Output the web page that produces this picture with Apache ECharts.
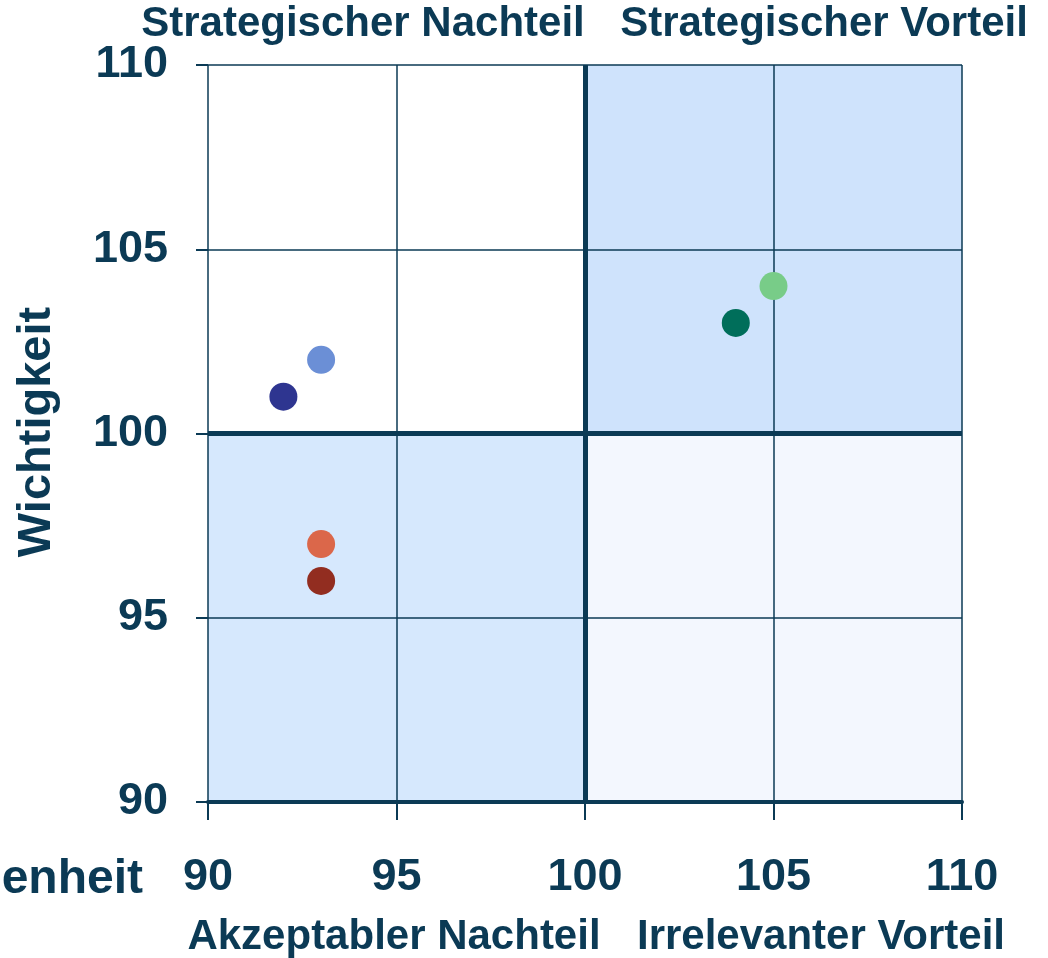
<!DOCTYPE html>
<html>
<head>
<meta charset="utf-8">
<script src="https://cdn.jsdelivr.net/npm/echarts@6/dist/echarts.min.js"></script>
<style>
  html, body { margin: 0; padding: 0; background: #fff; }
  #chart { width: 1048px; height: 958px; }
</style>
</head>
<body>
<div id="chart"></div>
<script>
// Datenpunkte: [Zufriedenheit, Wichtigkeit]
var pointNames = ['A', 'B', 'C', 'D', 'E', 'F']
var zufriedenheit = [92, 93, 93, 93, 104, 105]
var wichtigkeit = [101, 102, 97, 96, 103, 104]
var pointColors = ['#2e3590', '#6b8fd6', '#db674a', '#922d20', '#006e5a', '#78cc88']

var xTicks = [90, 95, 100, 105, 110]
var yTicks = [90, 95, 100, 105, 110]
var quadrantLabels = ['Strategischer Nachteil', 'Strategischer Vorteil', 'Akzeptabler Nachteil', 'Irrelevanter Vorteil']

var ink = '#0b3a55'
var font = '"Liberation Sans", Arial, sans-serif'

var chart = echarts.init(document.getElementById('chart'))

var points = zufriedenheit.map(function (x, i) {
  return {
    name: pointNames[i],
    value: [x, wichtigkeit[i]],
    itemStyle: { color: pointColors[i], opacity: 1 }
  }
})

var option = {
  backgroundColor: '#ffffff',
  animation: false,
  grid: { left: 208, right: 86, top: 65, bottom: 156 },
  xAxis: {
    type: 'value',
    z: 3,
    min: xTicks[0],
    max: xTicks[xTicks.length - 1],
    interval: 5,
    axisLine: { show: true, lineStyle: { color: ink, width: 4 } },
    axisTick: { show: true, length: 18, lineStyle: { color: ink, width: 2 } },
    axisLabel: { color: ink, fontSize: 45, fontWeight: 'bold', fontFamily: font, margin: 53 },
    splitLine: { show: true, lineStyle: { color: ink, width: 1.5 } }
  },
  yAxis: {
    type: 'value',
    z: 3,
    min: yTicks[0],
    max: yTicks[yTicks.length - 1],
    interval: 5,
    axisLine: { show: false },
    axisTick: { show: true, length: 12, lineStyle: { color: ink, width: 2 } },
    axisLabel: { color: ink, fontSize: 45, fontWeight: 'bold', fontFamily: font, margin: 40 },
    splitLine: { show: true, lineStyle: { color: ink, width: 1.5 } }
  },
  series: [
    {
      // Quadranten-Hintergrund unter den Gitterlinien
      type: 'scatter',
      data: [],
      z: 1,
      silent: true,
      markArea: {
        silent: true,
        data: [
          [{ coord: [100, 100], itemStyle: { color: '#cfe3fc' } }, { coord: [110, 110] }],
          [{ coord: [90, 90], itemStyle: { color: '#d6e8fd' } }, { coord: [100, 100] }],
          [{ coord: [100, 90], itemStyle: { color: '#f3f7fe' } }, { coord: [110, 100] }]
        ]
      }
    },
    {
      type: 'scatter',
      symbolSize: 28,
      data: points,
      z: 5,
      markLine: {
        silent: true,
        symbol: 'none',
        label: { show: false },
        lineStyle: { color: ink, width: 5, type: 'solid' },
        data: [{ xAxis: 100 }, { yAxis: 100 }]
      }
    }
  ],
  graphic: [
    { type: 'text', x: 363, y: 24, style: { text: quadrantLabels[0], fill: ink, font: 'bold 42px ' + font, align: 'center', verticalAlign: 'middle' } },
    { type: 'text', x: 824, y: 24, style: { text: quadrantLabels[1], fill: ink, font: 'bold 42px ' + font, align: 'center', verticalAlign: 'middle' } },
    { type: 'text', x: 394, y: 937, style: { text: quadrantLabels[2], fill: ink, font: 'bold 42px ' + font, align: 'center', verticalAlign: 'middle' } },
    { type: 'text', x: 821, y: 937, style: { text: quadrantLabels[3], fill: ink, font: 'bold 42px ' + font, align: 'center', verticalAlign: 'middle' } },
    { type: 'text', x: 143, y: 880, style: { text: 'Zufriedenheit', fill: ink, font: 'bold 48px ' + font, align: 'right', verticalAlign: 'middle' } },
    { type: 'text', x: 37, y: 432, rotation: Math.PI / 2, style: { text: 'Wichtigkeit', fill: ink, font: 'bold 47px ' + font, align: 'center', verticalAlign: 'middle' } }
  ]
}

chart.setOption(option)
</script>
</body>
</html>
